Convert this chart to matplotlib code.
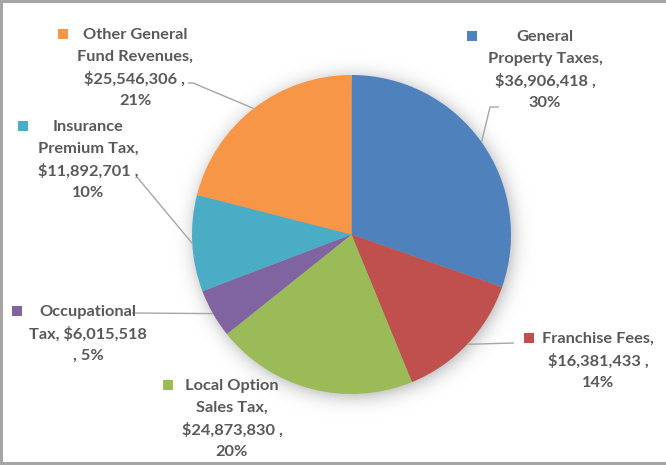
import numpy as np
import matplotlib
matplotlib.use("Agg")
import matplotlib.pyplot as plt
from matplotlib.patches import Rectangle

# ---------------- data ----------------
categories = ["General Property Taxes", "Franchise Fees", "Local Option Sales Tax",
              "Occupational Tax", "Insurance Premium Tax", "Other General Fund Revenues"]
values = [36906418, 16381433, 24873830, 6015518, 11892701, 25546306]
pct_labels = ["30%", "14%", "20%", "5%", "10%", "21%"]
label_texts = [
    "General\nProperty Taxes,\n$36,906,418 ,\n30%",
    "Franchise Fees,\n$16,381,433 ,\n14%",
    "Local Option\nSales Tax,\n$24,873,830 ,\n20%",
    "Occupational\nTax, $6,015,518\n, 5%",
    "Insurance\nPremium Tax,\n$11,892,701 ,\n10%",
    "Other General\nFund Revenues,\n$25,546,306 ,\n21%",
]
colors = ["#4F81BD", "#C0504D", "#9BBB59", "#8064A2", "#4BACC6", "#F79646"]

# ---------------- layout (pixel coords, y down) ----------------
W, H = 666, 465
CX, CY, R = 351.5, 234.5, 159.5
# (text center x, first line y, marker x, marker y, leader start points or None)
layout = [
    (545, 37, 472, 36, [(499, 107), (490, 107)]),
    (598, 339, 529, 338, [(514, 343)]),
    (232, 386, 168, 385, None),
    (88, 312, 17, 311, [(132, 313)]),
    (88, 127, 23, 126, [(137, 177)]),
    (135, 35, 63, 34, [(188, 83), (193, 83)]),
]
LINE_H = 22
TEXT_COLOR = "#595959"
LEADER_COLOR = "#A6A6A6"

fig = plt.figure(figsize=(W / 100, H / 100), dpi=100)
ax = fig.add_axes([0, 0, 1, 1])

# soft shadow behind the pie
X, Y = np.meshgrid(np.arange(W) + 0.5, np.arange(H) + 0.5)
d = np.hypot(X - (CX + 2), Y - (CY + 3))
alpha = 0.34 * 0.5 * (1 - np.tanh((d - R + 1) / 11.0))
img = np.zeros((H, W, 4))
img[..., 3] = alpha
ax.imshow(img, extent=(0, W, H, 0), origin="upper", zorder=0, interpolation="bilinear")

wedges, _ = ax.pie(values, colors=colors, startangle=-90, counterclock=True,
                   center=(CX, CY), radius=R, frame=True,
                   wedgeprops=dict(linewidth=0))
for w in wedges:
    w.set_zorder(2)

ax.set_xlim(0, W)
ax.set_ylim(H, 0)
ax.set_aspect("equal")
ax.axis("off")

for i, (w, txt) in enumerate(zip(wedges, label_texts)):
    tx, ty, mx, my, leader = layout[i]
    for k, line in enumerate(txt.split("\n")):
        ax.text(tx, ty + k * LINE_H, line, ha="center", va="center",
                fontsize=11.8, fontweight="bold", family="Lato", color=TEXT_COLOR, zorder=5)
    ax.add_patch(Rectangle((mx - 5, my - 5), 10, 10, facecolor=colors[i],
                           edgecolor="none", zorder=5))
    if leader is not None:
        th = np.deg2rad((w.theta1 + w.theta2) / 2)
        ex, ey = CX + R * np.cos(th), CY + R * np.sin(th)
        pts = leader + [(ex, ey)]
        ax.plot([p[0] for p in pts], [p[1] for p in pts], color=LEADER_COLOR,
                lw=1.0, zorder=3, solid_capstyle="butt")

# chart border (top, left, bottom)
bc = "#A5A5A5"
ax.add_patch(Rectangle((0, 0), W, 3, facecolor=bc, edgecolor="none", zorder=6))
ax.add_patch(Rectangle((0, 0), 2.5, H, facecolor=bc, edgecolor="none", zorder=6))
ax.add_patch(Rectangle((0, H - 3), W, 3, facecolor=bc, edgecolor="none", zorder=6))

fig.savefig("out.png", dpi=100)
